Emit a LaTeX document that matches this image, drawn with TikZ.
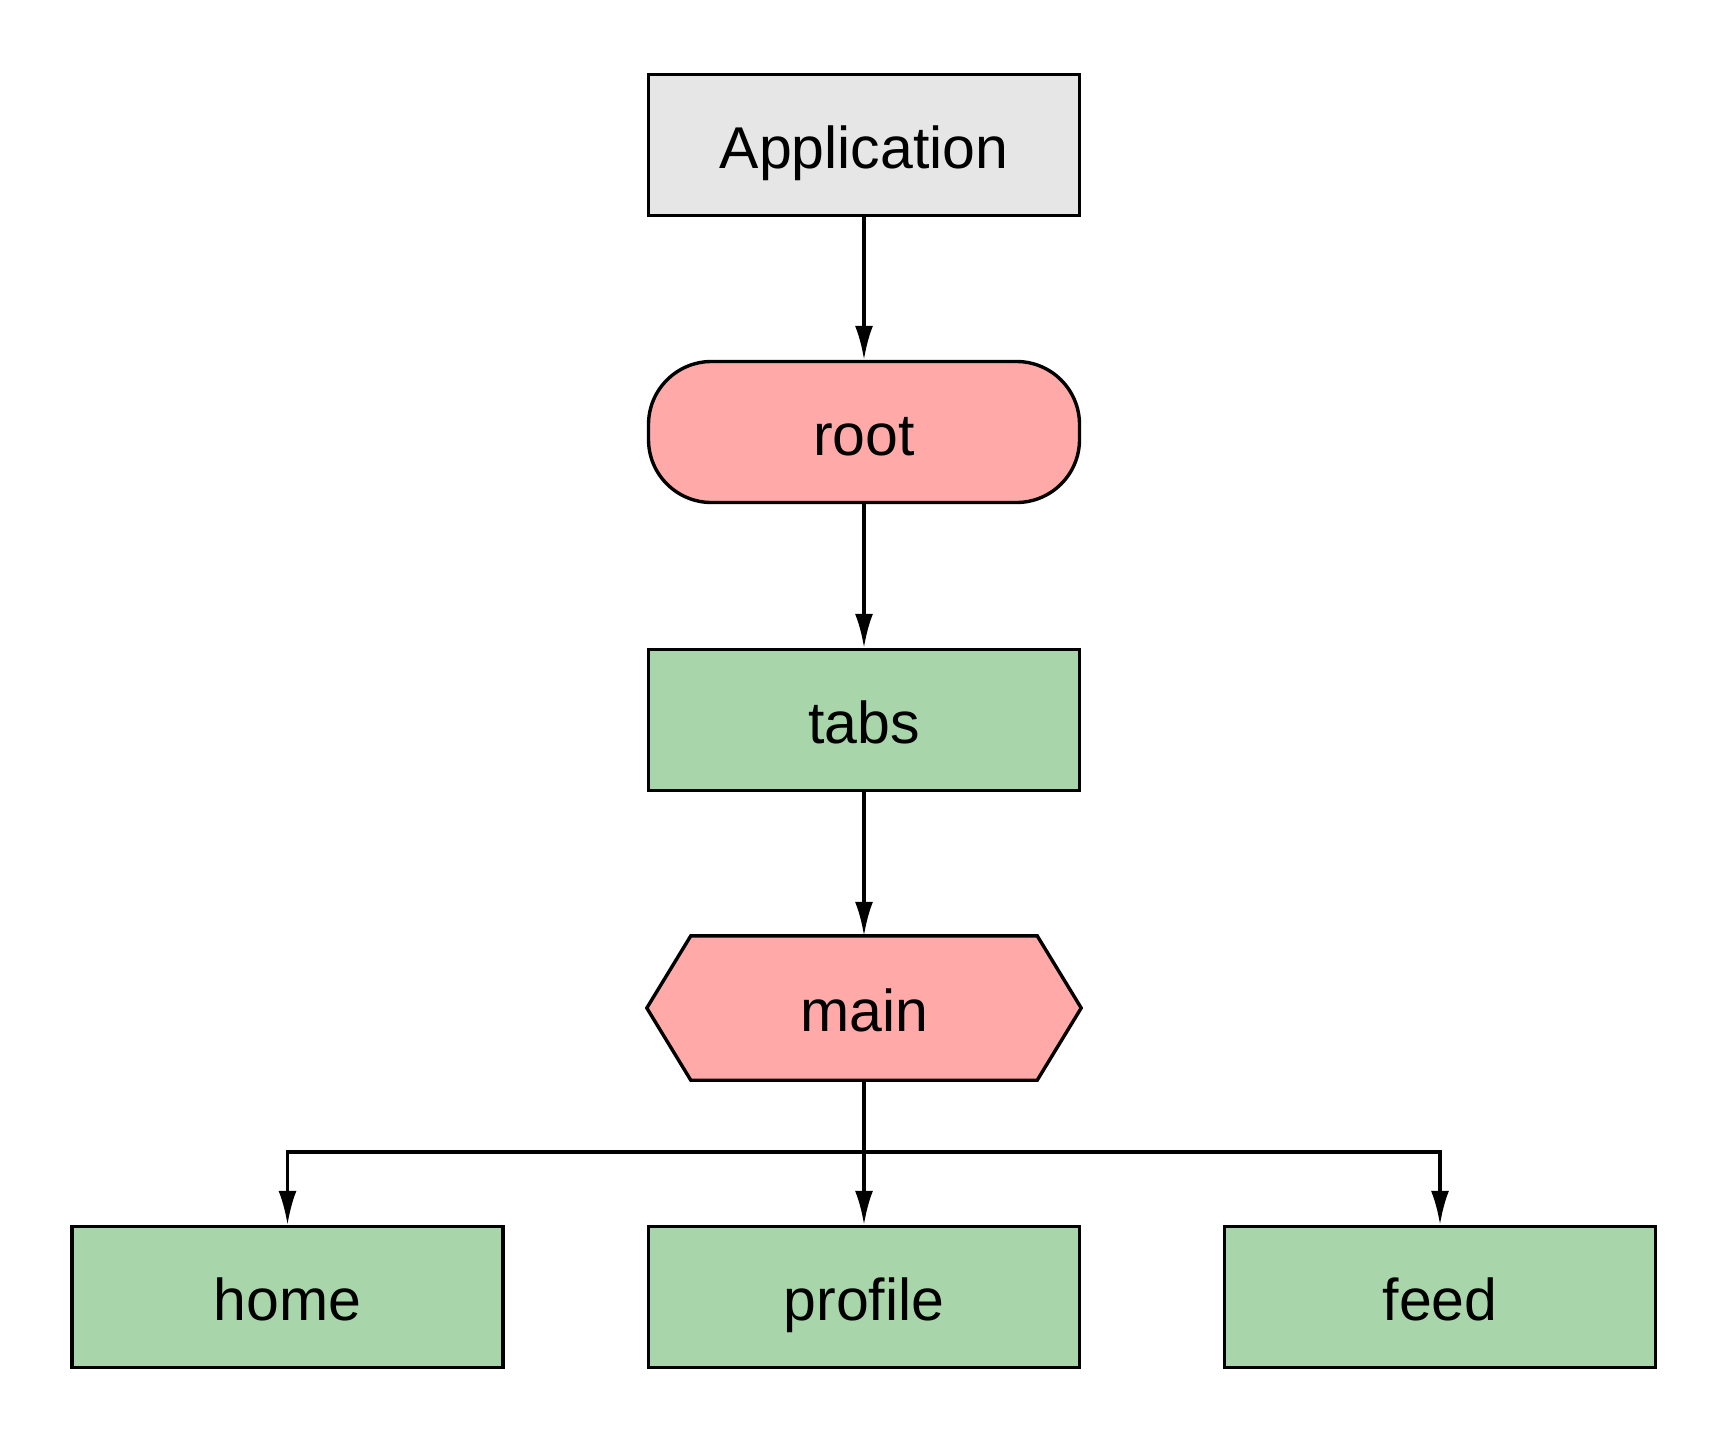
\documentclass[tikz,border=0pt]{standalone}
\usepackage{fontspec}
\setmainfont{Liberation Sans}
\usetikzlibrary{arrows.meta}
\definecolor{appgray}{HTML}{E6E6E6}
\definecolor{redfill}{HTML}{FFAAA8}
\definecolor{greenfill}{HTML}{A8D5AA}
\tikzset{
  base/.style={minimum width=431pt, minimum height=141pt, inner sep=0pt, line width=3.4pt,
    font=\fontsize{59}{70}\selectfont, text=black, text height=46pt, text depth=0pt},
  graybox/.style={base, draw=black, fill=appgray},
  greenbox/.style={base, draw=black, fill=greenfill},
  roundbox/.style={base, draw=black, fill=redfill, rounded corners=63pt},
  hexbox/.style={base},
  conn/.style={line width=3.4pt, -{Latex[length=34pt,width=18pt]}},
  plain/.style={line width=3.4pt}
}
\begin{document}
\begin{tikzpicture}[x=1pt,y=-1pt]
\useasboundingbox (0,0) rectangle (1728,1442);
\node[graybox] (app) at (864,145) {Application};
\node[roundbox] (root) at (864,432) {root};
\node[greenbox] (tabs) at (864,720) {tabs};
\node[hexbox] (main) at (864,1008) {};
\draw[line width=3.4pt, fill=redfill, line join=miter]
  (main.west) -- ([xshift=44pt]main.north west) -- ([xshift=-44pt]main.north east)
  -- (main.east) -- ([xshift=-44pt]main.south east) -- ([xshift=44pt]main.south west) -- cycle;
\node[base] at (main) {main};
\node[greenbox] (home) at (287.5,1297) {home};
\node[greenbox] (profile) at (864,1297) {profile};
\node[greenbox] (feed) at (1440,1297) {feed};
\coordinate (split) at (864,1152);
\draw[conn] (app.south) -- (root.north);
\draw[conn] (root.south) -- (tabs.north);
\draw[conn] (tabs.south) -- (main.north);
\draw[plain] (main.south) -- (split);
\draw[conn] (split) -- (profile.north);
\draw[conn] (split) -| (home.north);
\draw[conn] (split) -| (feed.north);
\end{tikzpicture}
\end{document}
